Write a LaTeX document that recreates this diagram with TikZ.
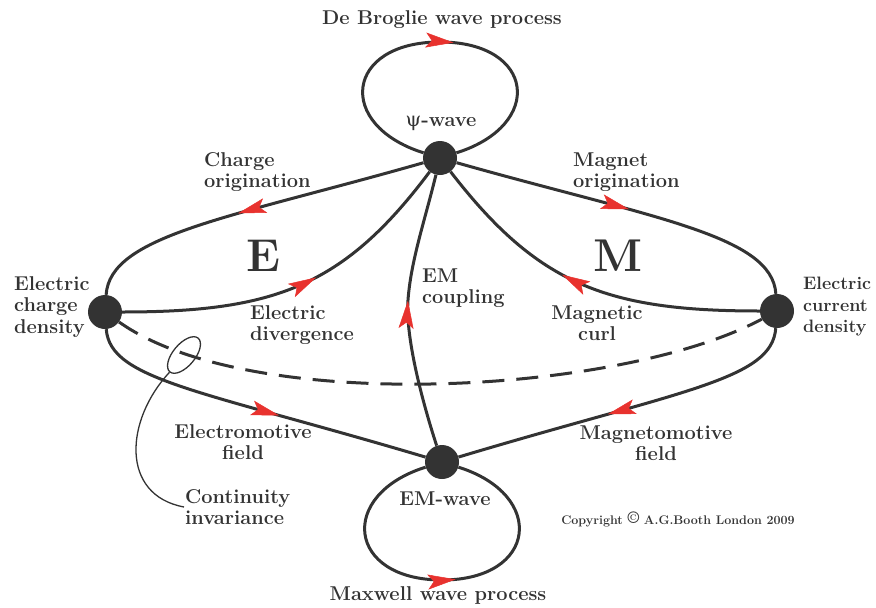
\documentclass[tikz,border=0pt]{standalone}
\usepackage{fontspec}
\newfontfamily\greekfont{DejaVu Serif}
\usetikzlibrary{arrows.meta, decorations.markings, shapes.geometric}
\definecolor{inkgray}{HTML}{333333}
\definecolor{tipred}{HTML}{E8322E}

\begin{document}
\begin{tikzpicture}[
    x=1pt, y=-1pt,
    font=\fontsize{20}{21.5}\selectfont\bfseries,
    text=inkgray,
    %% ── Node styles ─────────────────────────────────────────────────────
    hubnode/.style={
        circle, fill=inkgray,
        minimum size=34pt, inner sep=0pt,
    },
    lbl/.style={inner sep=1pt, align=center},
    lbll/.style={inner sep=1pt, align=left, anchor=west},
    bigletter/.style={inner sep=0pt, font=\fontsize{46}{46}\selectfont\bfseries},
    ring/.style={
        draw=inkgray, line width=1.3pt, ellipse,
        minimum width=44pt, minimum height=22pt, inner sep=0pt,
    },
    %% ── Connector styles ────────────────────────────────────────────────
    %% Flow: thick dark line, red head part way along
    flow/.style={
        draw=inkgray, line width=3pt,
        postaction={decorate, decoration={markings,
            mark=at position #1 with {\arrow{Stealth[length=28pt, width=15pt, inset=6pt, color=tipred, line width=0.5pt]}}}},
    },
    %% Continuity link between the two densities
    dashlink/.style={
        draw=inkgray, line width=3pt,
        dash pattern=on 22pt off 12pt,
    },
    thinlink/.style={draw=inkgray, line width=1.3pt},
]

\useasboundingbox (0,0) rectangle (876,608);

%%─────────────────────────────────────────────────────────────────────────
%% Hubs
%%─────────────────────────────────────────────────────────────────────────
\node[hubnode] (psiwave)    at (440,158) {};
\node[hubnode] (chargeden)  at (105,312) {};
\node[hubnode] (currentden) at (777,311) {};
\node[hubnode] (emwave)     at (442,462) {};

\coordinate (dbtop)    at (440,42);
\coordinate (mwbottom) at (442,580);

%%─────────────────────────────────────────────────────────────────────────
%% Labels
%%─────────────────────────────────────────────────────────────────────────
\node[lbl] (dbproc) at (442,20) {De Broglie wave process};
\node[lbl] (psilbl) at (441,123) {{\greekfont\mdseries ψ}-wave};
\node[lbll] (chgorig) at (203,172) {Charge\\origination};
\node[lbll] (magorig) at (572,172) {Magnet\\origination};
\node[bigletter] (eletter) at (263,256) {E};
\node[bigletter] (mletter) at (618,256) {M};
\node[lbll] (chglbl) at (13,307) {Electric\\charge\\density};
\node[lbll, font=\fontsize{18}{21.5}\selectfont\bfseries] (curlbl) at (802,307) {Electric\\current\\density};
\node[lbll] (divlbl) at (249,325) {Electric\\divergence};
\node[lbll] (couplbl) at (421,288) {EM\\coupling};
\node[lbl] (curllbl) at (597,323) {Magnetic\\curl};
\node[lbl] (emflbl) at (243,442) {Electromotive\\field};
\node[lbl] (mmflbl) at (656,443) {Magnetomotive\\field};
\node[lbll] (contlbl) at (184,507) {Continuity\\invariance};
\node[lbl] (emwlbl) at (445,499) {EM-wave};
\node[lbl] (mwproc) at (438,595) {Maxwell wave process};
\node[lbl, font=\fontsize{12.5}{14}\selectfont\bfseries] (copyr) at (678,519)
    {Copyright \raisebox{1pt}{\fontsize{17}{17}\selectfont\textcopyright} A.G.Booth London 2009};

\node[ring, rotate=50] (contring) at (184,355) {};

%%─────────────────────────────────────────────────────────────────────────
%% Loops
%%─────────────────────────────────────────────────────────────────────────
%% De Broglie wave process
\draw[flow=0.535]
    (psiwave) .. controls (335,125) and (345,42) .. (dbtop)
              .. controls (535,42) and (545,125) .. (psiwave);

%% Maxwell wave process
\draw[flow=0.535]
    (emwave) .. controls (337,495) and (347,580) .. (mwbottom)
             .. controls (537,580) and (547,495) .. (emwave);

%%─────────────────────────────────────────────────────────────────────────
%% Flows
%%─────────────────────────────────────────────────────────────────────────
%% Charge origination
\draw[flow=0.54] (psiwave) .. controls (230,218) and (110,235) .. (chargeden);
%% Electric divergence
\draw[flow=0.56] (chargeden) .. controls (275,312) and (344,286) .. (psiwave);
%% EM coupling
\draw[flow=0.535] (emwave) .. controls (425,410) and (405,340) .. (408,300)
                           .. controls (411,260) and (425,220) .. (psiwave);
%% Magnet origination
\draw[flow=0.5] (psiwave) .. controls (652,218) and (772,235) .. (currentden);
%% Magnetic curl
\draw[flow=0.57] (currentden) .. controls (607,311) and (538,285) .. (psiwave);
%% Electromotive field
\draw[flow=0.57] (chargeden) .. controls (110,380) and (200,390) .. (emwave);
%% Magnetomotive field
\draw[flow=0.56] (currentden) .. controls (772,380) and (682,390) .. (emwave);

%% Continuity invariance
\draw[dashlink] (chargeden) .. controls (250,415) and (620,395) .. (currentden);
\draw[thinlink] (contring.west) .. controls (125,420) and (120,495) .. (contlbl.west);

\end{tikzpicture}
\end{document}
